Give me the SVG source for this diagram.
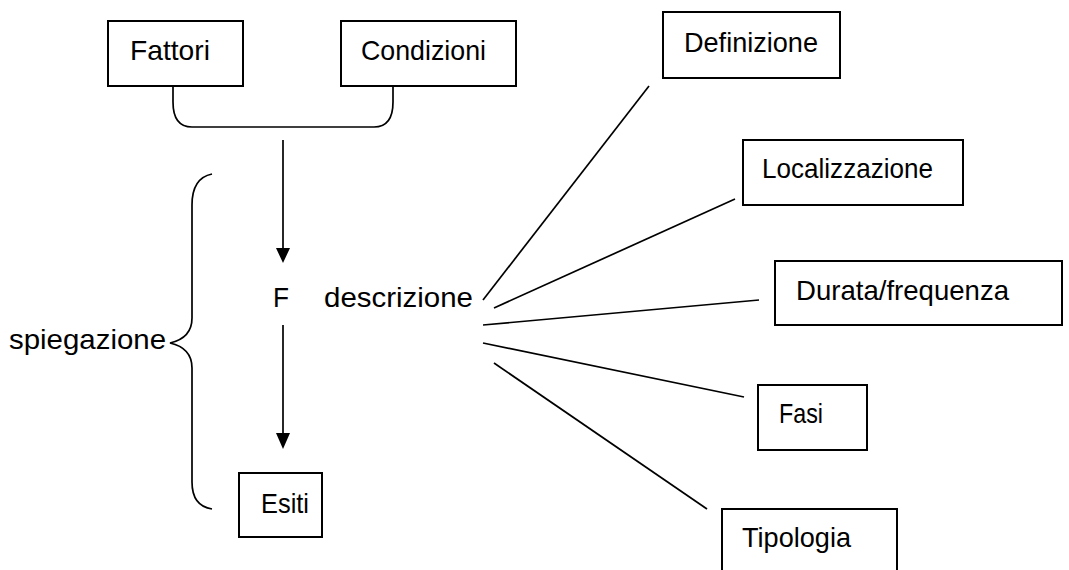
<svg xmlns="http://www.w3.org/2000/svg" width="1069" height="570" viewBox="0 0 1069 570">
  <style>
    .box { fill: #ffffff; stroke: #000000; stroke-width: 2; }
    .lbl { font-family: "Liberation Sans", Arial, sans-serif; font-size: 28px; fill: #000000; }
    .ln { fill: none; stroke: #000000; stroke-width: 1.7; }
  </style>
  <rect width="1069" height="570" fill="#ffffff"/>

  <!-- connectors -->
  <g id="connectors">
    <!-- bracket joining Fattori and Condizioni -->
    <path class="ln" d="M173,86 L173,102 Q173,127 192,127 L374,127 Q393,127 393,102 L393,86"/>
    <!-- arrows down the explanation axis -->
    <line class="ln" x1="283" y1="140" x2="283" y2="249"/>
    <path d="M276,248 L290,248 L283,263 Z" fill="#000000"/>
    <line class="ln" x1="283" y1="325" x2="283" y2="434"/>
    <path d="M276,433 L290,433 L283,449 Z" fill="#000000"/>
    <!-- brace for spiegazione -->
    <path class="ln" d="M212,174 Q192,178 192,205 L192,318 Q192,338 170,343 Q192,348 192,368 L192,482 Q192,506 212,509"/>
    <!-- rays from descrizione -->
    <line class="ln" x1="483" y1="300" x2="649" y2="86"/>
    <line class="ln" x1="494" y1="308" x2="735" y2="199"/>
    <line class="ln" x1="483" y1="325" x2="759" y2="300"/>
    <line class="ln" x1="483" y1="343" x2="744" y2="397"/>
    <line class="ln" x1="494" y1="363" x2="707" y2="509"/>
  </g>

  <g id="fattori">
    <rect class="box" x="108" y="21" width="135" height="65"/>
    <text class="lbl" x="130" y="60" textLength="80" lengthAdjust="spacingAndGlyphs">Fattori</text>
  </g>
  <g id="condizioni">
    <rect class="box" x="341" y="21" width="175" height="65"/>
    <text class="lbl" x="361" y="60" textLength="125" lengthAdjust="spacingAndGlyphs">Condizioni</text>
  </g>
  <g id="f">
    <text class="lbl" x="273" y="307" textLength="16" lengthAdjust="spacingAndGlyphs">F</text>
  </g>
  <g id="descrizione">
    <text class="lbl" x="324" y="307" textLength="149" lengthAdjust="spacingAndGlyphs">descrizione</text>
  </g>
  <g id="spiegazione">
    <text class="lbl" x="9" y="349" textLength="157" lengthAdjust="spacingAndGlyphs">spiegazione</text>
  </g>
  <g id="esiti">
    <rect class="box" x="239" y="473" width="83" height="64"/>
    <text class="lbl" x="261" y="513" textLength="48" lengthAdjust="spacingAndGlyphs">Esiti</text>
  </g>
  <g id="definizione">
    <rect class="box" x="663" y="12" width="177" height="66"/>
    <text class="lbl" x="684" y="52" textLength="134" lengthAdjust="spacingAndGlyphs">Definizione</text>
  </g>
  <g id="localizzazione">
    <rect class="box" x="743" y="140" width="220" height="65"/>
    <text class="lbl" x="762" y="178" textLength="171" lengthAdjust="spacingAndGlyphs">Localizzazione</text>
  </g>
  <g id="durata">
    <rect class="box" x="775" y="261" width="287" height="64"/>
    <text class="lbl" x="796" y="300" textLength="213" lengthAdjust="spacingAndGlyphs">Durata/frequenza</text>
  </g>
  <g id="fasi">
    <rect class="box" x="758" y="385" width="109" height="65"/>
    <text class="lbl" x="779" y="423" textLength="44" lengthAdjust="spacingAndGlyphs">Fasi</text>
  </g>
  <g id="tipologia">
    <rect class="box" x="722" y="509" width="175" height="70"/>
    <text class="lbl" x="742" y="547" textLength="109" lengthAdjust="spacingAndGlyphs">Tipologia</text>
  </g>
</svg>
